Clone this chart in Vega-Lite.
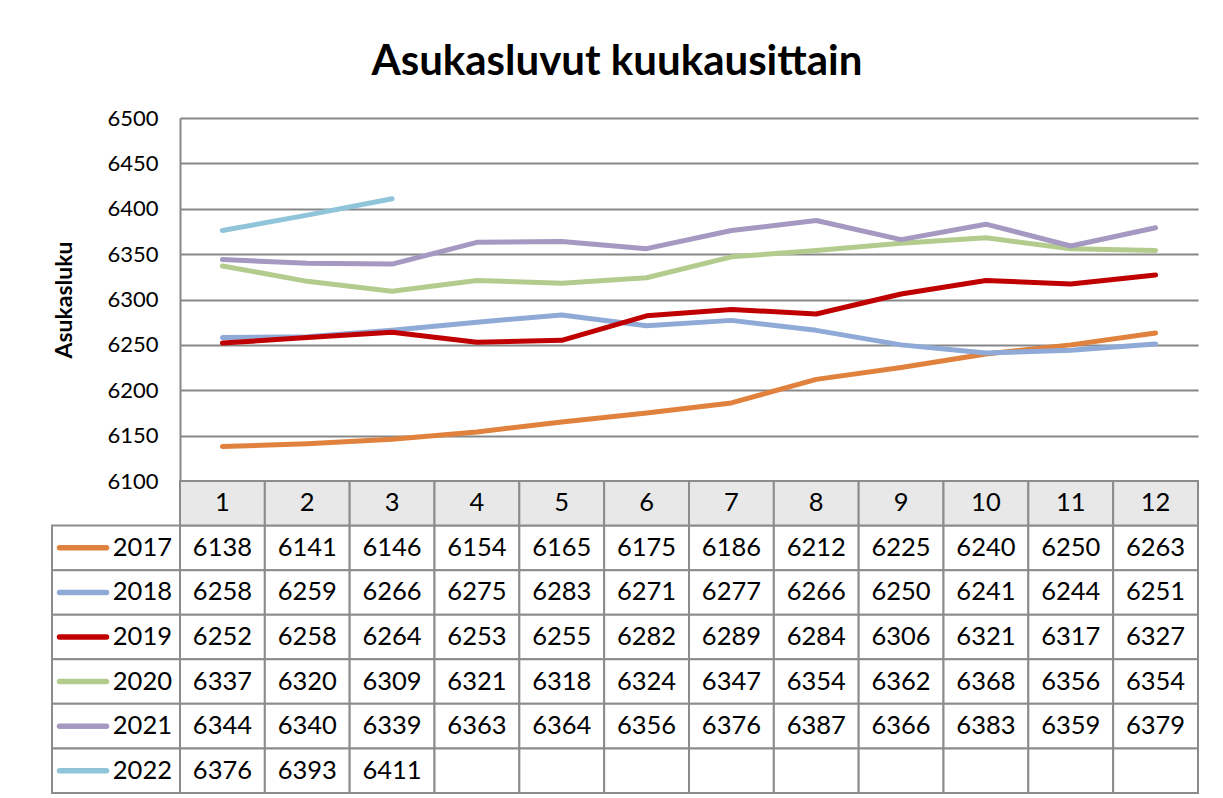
{
  "$schema": "https://vega.github.io/schema/vega-lite/v6.json",
  "width": 1018,
  "height": 363,
  "autosize": {"type": "none"},
  "padding": {"left": 180, "top": 118, "right": 25, "bottom": 317},
  "background": "white",
  "config": {"font": "Lato", "view": {"stroke": null}},
  "title": {"text": "Asukasluvut kuukausittain", "font": "Lato", "fontSize": 42, "fontWeight": "bold", "color": "black", "anchor": "middle", "frame": "group", "dx": -72, "offset": 23},
  "datasets": {
    "d": [
      {"year": "2017", "month": 1, "value": 6138}, {"year": "2017", "month": 2, "value": 6141}, {"year": "2017", "month": 3, "value": 6146}, {"year": "2017", "month": 4, "value": 6154}, {"year": "2017", "month": 5, "value": 6165}, {"year": "2017", "month": 6, "value": 6175}, {"year": "2017", "month": 7, "value": 6186}, {"year": "2017", "month": 8, "value": 6212}, {"year": "2017", "month": 9, "value": 6225}, {"year": "2017", "month": 10, "value": 6240}, {"year": "2017", "month": 11, "value": 6250}, {"year": "2017", "month": 12, "value": 6263},
      {"year": "2018", "month": 1, "value": 6258}, {"year": "2018", "month": 2, "value": 6259}, {"year": "2018", "month": 3, "value": 6266}, {"year": "2018", "month": 4, "value": 6275}, {"year": "2018", "month": 5, "value": 6283}, {"year": "2018", "month": 6, "value": 6271}, {"year": "2018", "month": 7, "value": 6277}, {"year": "2018", "month": 8, "value": 6266}, {"year": "2018", "month": 9, "value": 6250}, {"year": "2018", "month": 10, "value": 6241}, {"year": "2018", "month": 11, "value": 6244}, {"year": "2018", "month": 12, "value": 6251},
      {"year": "2019", "month": 1, "value": 6252}, {"year": "2019", "month": 2, "value": 6258}, {"year": "2019", "month": 3, "value": 6264}, {"year": "2019", "month": 4, "value": 6253}, {"year": "2019", "month": 5, "value": 6255}, {"year": "2019", "month": 6, "value": 6282}, {"year": "2019", "month": 7, "value": 6289}, {"year": "2019", "month": 8, "value": 6284}, {"year": "2019", "month": 9, "value": 6306}, {"year": "2019", "month": 10, "value": 6321}, {"year": "2019", "month": 11, "value": 6317}, {"year": "2019", "month": 12, "value": 6327},
      {"year": "2020", "month": 1, "value": 6337}, {"year": "2020", "month": 2, "value": 6320}, {"year": "2020", "month": 3, "value": 6309}, {"year": "2020", "month": 4, "value": 6321}, {"year": "2020", "month": 5, "value": 6318}, {"year": "2020", "month": 6, "value": 6324}, {"year": "2020", "month": 7, "value": 6347}, {"year": "2020", "month": 8, "value": 6354}, {"year": "2020", "month": 9, "value": 6362}, {"year": "2020", "month": 10, "value": 6368}, {"year": "2020", "month": 11, "value": 6356}, {"year": "2020", "month": 12, "value": 6354},
      {"year": "2021", "month": 1, "value": 6344}, {"year": "2021", "month": 2, "value": 6340}, {"year": "2021", "month": 3, "value": 6339}, {"year": "2021", "month": 4, "value": 6363}, {"year": "2021", "month": 5, "value": 6364}, {"year": "2021", "month": 6, "value": 6356}, {"year": "2021", "month": 7, "value": 6376}, {"year": "2021", "month": 8, "value": 6387}, {"year": "2021", "month": 9, "value": 6366}, {"year": "2021", "month": 10, "value": 6383}, {"year": "2021", "month": 11, "value": 6359}, {"year": "2021", "month": 12, "value": 6379},
      {"year": "2022", "month": 1, "value": 6376}, {"year": "2022", "month": 2, "value": 6393}, {"year": "2022", "month": 3, "value": 6411}, {"year": "2022", "month": 4, "value": null}, {"year": "2022", "month": 5, "value": null}, {"year": "2022", "month": 6, "value": null}, {"year": "2022", "month": 7, "value": null}, {"year": "2022", "month": 8, "value": null}, {"year": "2022", "month": 9, "value": null}, {"year": "2022", "month": 10, "value": null}, {"year": "2022", "month": 11, "value": null}, {"year": "2022", "month": 12, "value": null}
    ]
  },
  "data": {"name": "d"},
  "layer": [
    {
      "transform": [{"filter": "isValid(datum.value)"}],
      "mark": {"type": "line", "strokeWidth": 5, "strokeCap": "round", "strokeJoin": "round"},
      "encoding": {
        "x": {"field": "month", "type": "ordinal", "bandPosition": 0.5, "scale": {"type": "band", "paddingInner": 0, "paddingOuter": 0}, "axis": null},
        "y": {"field": "value", "type": "quantitative", "scale": {"domain": [6100, 6500], "nice": false, "zero": false},
          "axis": {"values": [6100, 6150, 6200, 6250, 6300, 6350, 6400, 6450, 6500], "format": "d", "title": "Asukasluku", "grid": true, "gridColor": "#878787", "gridWidth": 2, "gridOpacity": 1, "domainColor": "#878787", "domainWidth": 2, "ticks": false, "labelFont": "Lato", "labelFontSize": 22, "labelColor": "black", "labelPadding": 22, "titleFont": "Lato", "titleFontSize": 23, "titleFontWeight": "bold", "titleColor": "black", "titlePadding": 30}},
        "color": {"field": "year", "type": "nominal", "scale": {"domain": ["2017", "2018", "2019", "2020", "2021", "2022"], "range": ["#e0823d", "#8faad6", "#c00000", "#b3cc8e", "#a599c2", "#90c4d9"]}, "legend": null}
      }
    },
    {
      "layer": [
        {"mark": {"type": "rect", "fill": "white", "stroke": "#8c8c8c", "strokeWidth": 2}},
        {"transform": [{"filter": "isValid(datum.value)"}], "mark": {"type": "text", "font": "Lato", "fontSize": 25.5, "color": "black", "baseline": "middle", "align": "center"}, "encoding": {"text": {"field": "value", "type": "nominal"}}},
        {"transform": [{"filter": "datum.year == '2017'"}], "mark": {"type": "rect", "fill": "#e8e8e8", "stroke": "#8c8c8c", "strokeWidth": 2}, "encoding": {"y": {"datum": "hdr", "type": "nominal"}}},
        {"transform": [{"filter": "datum.year == '2017'"}], "mark": {"type": "text", "font": "Lato", "fontSize": 25.5, "color": "black", "baseline": "middle", "align": "center"}, "encoding": {"y": {"datum": "hdr", "type": "nominal"}, "text": {"field": "month", "type": "nominal"}}}
      ],
      "encoding": {
        "x": {"field": "month", "type": "ordinal", "scale": {"type": "band", "paddingInner": 0, "paddingOuter": 0}, "axis": null},
        "y": {"field": "year", "type": "nominal", "scale": {"type": "band", "domain": ["hdr", "2017", "2018", "2019", "2020", "2021", "2022"], "range": [363, 675], "paddingInner": 0, "paddingOuter": 0}, "axis": null}
      }
    },
    {
      "transform": [{"filter": "datum.month == 1"}],
      "layer": [
        {"mark": {"type": "rect", "fill": "white", "stroke": "#8c8c8c", "strokeWidth": 2}},
        {"mark": {"type": "point", "shape": "stroke", "size": 2209, "strokeWidth": 5.5, "strokeCap": "round", "filled": false, "opacity": 1, "xOffset": -33},
         "encoding": {"color": {"field": "year", "type": "nominal", "scale": {"domain": ["2017", "2018", "2019", "2020", "2021", "2022"], "range": ["#e0823d", "#8faad6", "#c00000", "#b3cc8e", "#a599c2", "#90c4d9"]}, "legend": null}}},
        {"mark": {"type": "text", "font": "Lato", "fontSize": 25.5, "color": "black", "baseline": "middle", "align": "right", "dx": 56}, "encoding": {"text": {"field": "year", "type": "nominal"}}}
      ],
      "encoding": {
        "x": {"datum": "legend", "type": "nominal", "scale": {"type": "band", "domain": ["legend"], "range": [-128, 0], "paddingInner": 0, "paddingOuter": 0}, "axis": null},
        "y": {"field": "year", "type": "nominal", "scale": {"type": "band", "domain": ["hdr", "2017", "2018", "2019", "2020", "2021", "2022"], "range": [363, 675], "paddingInner": 0, "paddingOuter": 0}, "axis": null}
      }
    }
  ],
  "resolve": {"scale": {"x": "independent", "y": "independent"}}
}
